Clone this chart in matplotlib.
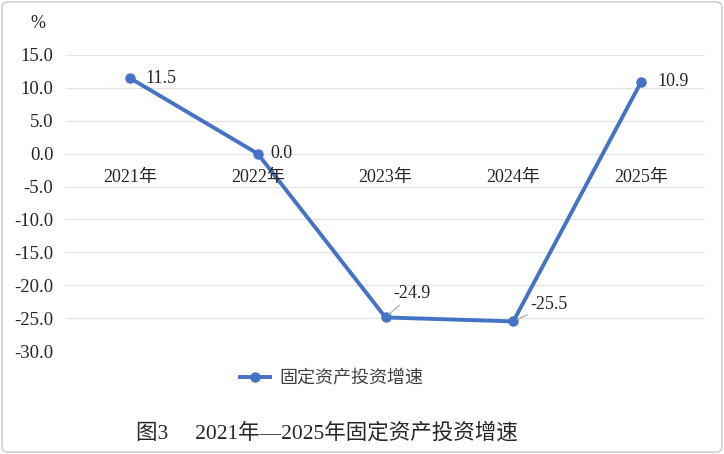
import matplotlib
matplotlib.use("Agg")
import matplotlib.pyplot as plt
from matplotlib.patches import FancyBboxPatch

plt.rcParams['font.family'] = ['Liberation Serif', 'Noto Sans CJK SC']

# data
years = ['2021年', '2022年', '2023年', '2024年', '2025年']
growth = [11.5, 0.0, -24.9, -25.5, 10.9]
yticks = [15, 10, 5, 0, -5, -10, -15, -20, -25, -30]

blue = '#4472C4'
txt = '#262626'
fs = 13

fig = plt.figure(figsize=(7.24, 4.54), dpi=100)
ax = fig.add_axes([66 / 724, 1 - 351 / 454, 639 / 724, 296 / 454])

x = list(range(len(years)))
ax.plot(x, growth, color=blue, lw=2.8, marker='o', ms=6.5, label='固定资产投资增速',
        solid_joinstyle='round', zorder=3)

ax.set_xlim(-0.5, len(years) - 0.5)
ax.set_ylim(-30, 15)
ax.set_yticks(yticks)
ax.set_yticklabels([f'{v:.1f}' for v in yticks], fontsize=13.5, color=txt)
ax.tick_params(axis='y', length=0, pad=9)
ax.set_xticks([])
ax.grid(axis='y', color='#E3E3E3', lw=0.9)
for s in ax.spines.values():
    s.set_visible(False)

# category labels sit just under the zero line
for i, yr in enumerate(years):
    ax.annotate(yr, (i, 0), xytext=(0, -17), textcoords='offset points',
                ha='center', va='center', fontsize=fs, color=txt)

# data labels
offsets = [(11, 0), (9, 0), (6, 17), (12, 12), (12, 0)]
leaders = [False, False, True, True, False]
for i, v in enumerate(growth):
    dx, dy = offsets[i]
    props = None
    if leaders[i]:
        props = dict(arrowstyle='-', color='#A6A6A6', lw=0.8, shrinkA=0, shrinkB=3)
    ax.annotate(f'{v:.1f}', (i, v), xytext=(dx, dy), textcoords='offset points',
                ha='left', va='center', fontsize=fs, color=txt, arrowprops=props)

fig.text(30 / 724, 1 - 23 / 454, '%', fontsize=fs, color=txt, ha='left', va='center')

leg = fig.legend(loc='center', bbox_to_anchor=(0.458, 1 - 379 / 454), frameon=False,
                 fontsize=fs, handlelength=1.7, handletextpad=0.5)
for t in leg.get_texts():
    t.set_color('#404040')

fig.text(0.452, 1 - 433 / 454, '图3\u3000 2021年—2025年固定资产投资增速',
         fontsize=15.5, color=txt, ha='center', va='center')

border = FancyBboxPatch((0.003, 0.004), 0.994, 0.992, boxstyle='round,pad=0,rounding_size=0.01',
                        transform=fig.transFigure, fill=False, ec='#D0D0D0', lw=1.2)
fig.patches.append(border)

fig.savefig('out.png', dpi=100)
